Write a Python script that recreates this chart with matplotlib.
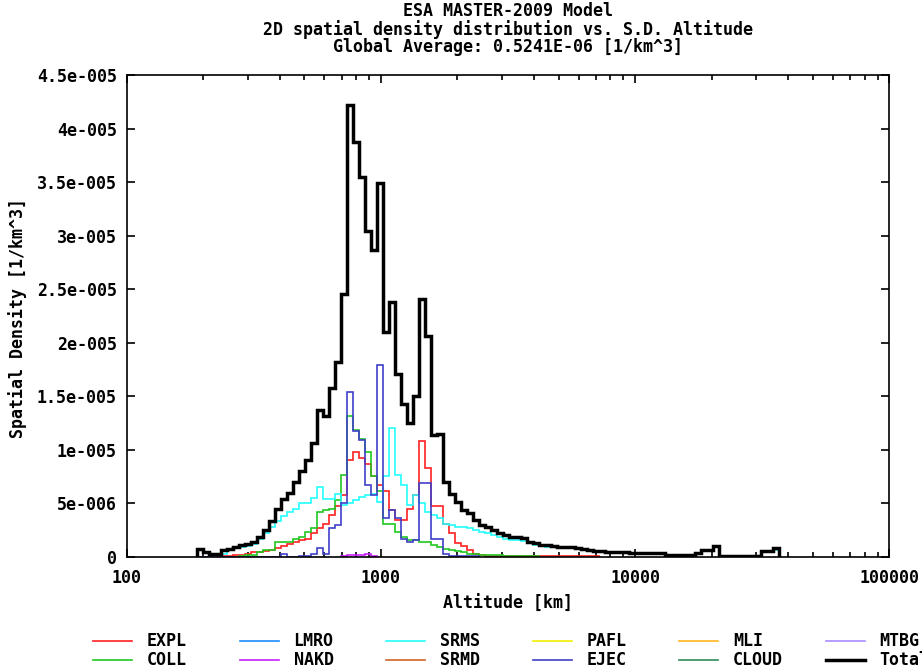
import numpy as np
import matplotlib
matplotlib.use("Agg")
import matplotlib.pyplot as plt
from matplotlib.lines import Line2D
from matplotlib.ticker import LogLocator, NullFormatter

plt.rcParams['font.family'] = 'DejaVu Sans Mono'
plt.rcParams['font.weight'] = 'bold'
plt.rcParams['font.size'] = 12

# altitude bins (km), log spaced
alt_min, alt_max, n_bins = 189.6, 36930.0, 97
edges = np.geomspace(alt_min, alt_max, n_bins + 1)

# spatial density per bin, in units of 1e-5 / km^3
total = [0.07, 0.047, 0.03, 0.03, 0.063, 0.075, 0.093, 0.11, 0.12, 0.14,
         0.18, 0.25, 0.33, 0.45, 0.54, 0.60, 0.70, 0.80, 0.90, 1.06,
         1.37, 1.31, 1.58, 1.82, 2.45, 4.22, 3.87, 3.55, 3.04, 2.87,
         3.49, 2.10, 2.38, 1.71, 1.43, 1.25, 1.50, 2.41, 2.06, 1.14,
         1.15, 0.70, 0.59, 0.514, 0.436, 0.405, 0.343, 0.296, 0.28, 0.25,
         0.218, 0.203, 0.187, 0.187, 0.172, 0.14, 0.125, 0.109, 0.109, 0.10,
         0.093, 0.093, 0.093, 0.085, 0.075, 0.065, 0.056, 0.056, 0.047, 0.047,
         0.047, 0.04, 0.037, 0.037, 0.037, 0.037, 0.037, 0.037, 0.016, 0.016,
         0.016, 0.016, 0.016, 0.037, 0.063, 0.063, 0.10, 0.007, 0.007, 0.007,
         0.007, 0.007, 0.007, 0.007, 0.056, 0.056, 0.078]

srms = [0, 0, 0, 0, 0.03, 0.06, 0.08, 0.09, 0.10, 0.12,
        0.17, 0.22, 0.28, 0.33, 0.38, 0.42, 0.45, 0.50, 0.50, 0.55,
        0.65, 0.54, 0.54, 0.59, 0.48, 0.50, 0.53, 0.555, 0.58, 0.59,
        0.51, 0.75, 1.20, 0.76, 0.67, 0.48, 0.58, 0.50, 0.42, 0.39,
        0.36, 0.31, 0.296, 0.28, 0.28, 0.265, 0.25, 0.234, 0.22, 0.20,
        0.187, 0.17, 0.16, 0.16, 0.15, 0.125, 0.11, 0.10, 0.093, 0.09,
        0.088, 0.085, 0.085, 0.078, 0.07, 0.06, 0.05, 0.05, 0.043, 0.043,
        0.043, 0.037, 0.033, 0.033, 0.033, 0.033, 0.033, 0.033, 0.012, 0.012,
        0.012, 0.012, 0.012, 0.033, 0.055, 0.055, 0.09, 0.005, 0.005, 0.005,
        0.005, 0.005, 0.005, 0.005, 0.045, 0.045, 0.06]

coll = [0, 0, 0, 0, 0, 0, 0, 0.01, 0.015, 0.02,
        0.04, 0.06, 0.063, 0.14, 0.14, 0.14, 0.17, 0.187, 0.234, 0.265,
        0.42, 0.436, 0.45, 0.53, 0.76, 1.31, 1.18, 1.10, 0.98, 0.75,
        0.61, 0.31, 0.31, 0.23, 0.187, 0.156, 0.156, 0.14, 0.14, 0.11,
        0.093, 0.07, 0.063, 0.05, 0.04, 0.03, 0.03, 0.02, 0.02, 0.015,
        0.015, 0.01, 0.01, 0.01, 0.01, 0.01, 0.01]

expl = [0, 0, 0, 0, 0.005, 0.01, 0.015, 0.02, 0.03, 0.04,
        0.047, 0.05, 0.063, 0.08, 0.10, 0.12, 0.14, 0.16, 0.17, 0.22,
        0.265, 0.31, 0.39, 0.47, 0.58, 0.90, 0.98, 0.92, 0.87, 0.75,
        0.67, 0.61, 0.44, 0.34, 0.34, 0.45, 0.58, 1.08, 0.83, 0.47,
        0.47, 0.31, 0.22, 0.125, 0.10, 0.06, 0.03, 0.02, 0.01, 0.01,
        0.01, 0.01, 0.01, 0.01, 0.01, 0.01, 0.01, 0.01, 0.01, 0.01,
        0.01, 0.01, 0.01, 0.01, 0.01, 0.01, 0.01]

ejec = [0, 0, 0, 0, 0, 0, 0, 0, 0, 0,
        0, 0, 0, 0, 0.03, 0, 0, 0.01, 0.01, 0.03,
        0.078, 0.03, 0.265, 0.30, 0.50, 1.54, 1.17, 1.09, 0.67, 0.58,
        1.79, 0.36, 0.44, 0.36, 0.17, 0.14, 0.156, 0.69, 0.69, 0.17,
        0.17, 0.03, 0.01, 0.005, 0.005, 0.005, 0.005]

# NAKD only appears in bins 24..29
nakd_first = 24
nakd = [0.01, 0.015, 0.015, 0.02, 0.03, 0.01]

series_names = ['EXPL', 'COLL', 'LMRO', 'NAKD', 'SRMS', 'SRMD',
                'PAFL', 'EJEC', 'MLI', 'CLOUD', 'MTBG', 'Total']
series_colors = ['#ff2020', '#20c820', '#1e8cff', '#c81eff', '#22ffff', '#d2642a',
                 '#f0f000', '#4040c8', '#ffb420', '#2e8c5a', '#aa8cff', 'black']

fig = plt.figure(figsize=(9.22, 6.71), dpi=100)
ax = fig.add_axes([0.1374, 0.1703, 0.8271, 0.7179])


def draw(vals, color, lw, start=0, z=2):
    v = np.array(vals) * 1e-5
    ax.stairs(v, edges[start:start + len(v) + 1], color=color, lw=lw,
              baseline=0, zorder=z)


draw(expl, series_colors[0], 1.2)
draw(coll, series_colors[1], 1.2)
draw(nakd, series_colors[3], 1.2, start=nakd_first)
draw(srms, series_colors[4], 1.2)
draw(ejec, series_colors[7], 1.2)
draw(total, 'black', 2.5, z=3)

ax.set_xscale('log')
ax.set_xlim(100, 100000)
ax.set_ylim(0, 4.5e-5)

xt = [100, 1000, 10000, 100000]
ax.set_xticks(xt, ['100', '1000', '10000', '100000'])
ax.xaxis.set_minor_locator(LogLocator(base=10, subs=np.arange(2, 10)))
ax.xaxis.set_minor_formatter(NullFormatter())

yt = [0, 5e-6, 1e-5, 1.5e-5, 2e-5, 2.5e-5, 3e-5, 3.5e-5, 4e-5, 4.5e-5]
ytl = ['0', '5e-006', '1e-005', '1.5e-005', '2e-005', '2.5e-005',
       '3e-005', '3.5e-005', '4e-005', '4.5e-005']
ax.set_yticks(yt, ytl)

ax.tick_params(which='both', direction='in', top=True, right=True, width=1.2)
ax.tick_params(which='major', length=6)
ax.tick_params(which='minor', length=3.5)
ax.tick_params(axis='x', pad=9)
ax.tick_params(axis='y', pad=7)
for s in ax.spines.values():
    s.set_linewidth(1.2)
    s.set_zorder(4)

W, H = 922, 671
fig.text(508 / W, 1 - 2 / H,
         'ESA MASTER-2009 Model\n'
         '2D spatial density distribution vs. S.D. Altitude\n'
         'Global Average: 0.5241E-06 [1/km^3]',
         ha='center', va='top', linespacing=0.98)
fig.text(508 / W, 1 - 604 / H, 'Altitude [km]', ha='center', va='center')
fig.text(18 / W, 1 - 318 / H, 'Spatial Density [1/km^3]', rotation=90,
         ha='center', va='center')

# legend, 6 columns x 2 rows laid out along the bottom
col_x = [93, 239.5, 386, 532.5, 679, 825.5]
row_y = [641, 660]
for k, (name, c) in enumerate(zip(series_names, series_colors)):
    cx = col_x[k // 2]
    ry = row_y[k % 2]
    lw = 2.5 if name == 'Total' else 1.2
    fig.add_artist(Line2D([cx / W, (cx + 39) / W], [1 - ry / H, 1 - ry / H],
                          color=c, lw=lw, transform=fig.transFigure))
    fig.text((cx + 54) / W, 1 - ry / H, name, ha='left', va='center')

fig.savefig('out.png', dpi=100)
